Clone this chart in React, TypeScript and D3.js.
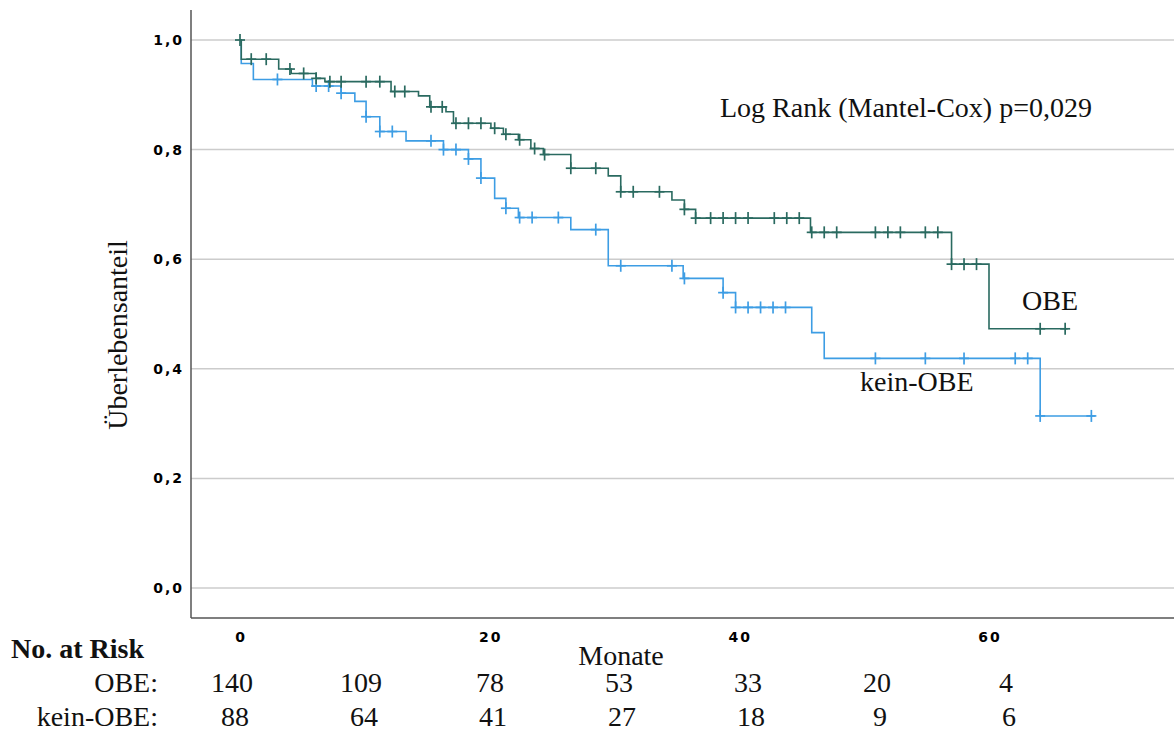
import React, { useEffect, useRef } from "react"
import * as d3 from "d3"

// Kaplan-Meier, OBE
const obeEventTimes = [0.1, 3.1, 4.1, 6.1, 6.8, 12.1, 14.3, 15.2, 16.5, 17.1, 20.1, 21.1, 22.3, 23.3, 24.3, 26.5, 29.5, 30.5, 34.6, 35.6, 36.5, 45.7, 57.0, 60.0]
const obeSurvival = [0.965, 0.947, 0.939, 0.93, 0.924, 0.906, 0.898, 0.878, 0.869, 0.848, 0.839, 0.828, 0.818, 0.802, 0.791, 0.766, 0.752, 0.723, 0.708, 0.691, 0.675, 0.649, 0.591, 0.473]
const obeCensored = [0, 0.9, 2.1, 4.0, 5.1, 6.1, 7.2, 8.1, 10.1, 11.2, 12.4, 13.2, 15.3, 16.2, 17.3, 18.3, 19.3, 20.4, 21.3, 22.4, 23.6, 24.4, 26.5, 28.5, 30.5, 31.5, 33.6, 35.6, 36.5, 37.7, 38.7, 39.7, 40.7, 42.8, 43.8, 44.8, 45.8, 46.8, 47.8, 50.9, 51.9, 52.9, 54.9, 55.9, 57.0, 58.0, 59.0, 64.1, 66.1]
const obeEnd = 66.3

// Kaplan-Meier, kein-OBE
const keinEventTimes = [0.1, 1.07, 5.8, 8.1, 9.2, 10.1, 11.2, 13.3, 16.3, 18.3, 19.3, 20.4, 21.3, 22.3, 26.5, 29.5, 35.5, 38.7, 39.7, 45.8, 46.8, 64.1]
const keinSurvival = [0.957, 0.928, 0.916, 0.903, 0.888, 0.86, 0.833, 0.816, 0.8, 0.783, 0.748, 0.711, 0.693, 0.676, 0.654, 0.588, 0.565, 0.539, 0.512, 0.466, 0.419, 0.314]
const keinCensored = [3.0, 6.1, 7.1, 8.1, 10.1, 11.2, 12.2, 15.3, 16.3, 17.3, 18.3, 19.3, 21.3, 22.4, 23.4, 25.5, 28.5, 30.5, 34.6, 35.6, 38.7, 39.7, 40.7, 41.7, 42.7, 43.7, 50.9, 54.9, 58.0, 62.1, 63.1, 64.1, 68.2]
const keinEnd = 68.5

const yTicks = [0, 0.2, 0.4, 0.6, 0.8, 1.0]
const xTicks = [0, 20, 40, 60]

const riskMonths = [0, 10, 20, 30, 40, 50, 60]
const riskObe = [140, 109, 78, 53, 33, 20, 4]
const riskKein = [88, 64, 41, 27, 18, 9, 6]

const obeColor = "#2a6a60"
const keinColor = "#3d9de4"
const serif = "'Liberation Serif', 'Times New Roman', serif"
const tickFont = "'DejaVu Sans', sans-serif"

const App = () => {
  const ref = useRef<SVGSVGElement>(null)

  useEffect(() => {
    const svg = d3.select(ref.current)
    svg.selectAll("*").remove()

    const x = d3.scaleLinear().domain([0, 60]).range([240, 989])
    const y = d3.scaleLinear().domain([0, 1]).range([588, 40])
    const xRisk = d3.scaleLinear().domain([0, 60]).range([232, 1006])
    const left = 191, right = 1174, bottom = 618

    // grid
    svg.append("g").selectAll("line").data(yTicks).join("line")
      .attr("x1", left).attr("x2", right)
      .attr("y1", d => y(d)).attr("y2", d => y(d))
      .attr("stroke", "#cccccc").attr("stroke-width", 1.5)

    // axes
    svg.append("line").attr("x1", left).attr("x2", left).attr("y1", 10).attr("y2", bottom)
      .attr("stroke", "#555").attr("stroke-width", 1.5)
    svg.append("line").attr("x1", left).attr("x2", right).attr("y1", bottom).attr("y2", bottom)
      .attr("stroke", "#555").attr("stroke-width", 1.5)

    svg.append("g").selectAll("text").data(yTicks).join("text")
      .attr("x", 184).attr("y", d => y(d) + 5)
      .attr("text-anchor", "end")
      .attr("font-family", tickFont).attr("font-weight", "bold").attr("font-size", 14)
      .attr("letter-spacing", 2)
      .text(d => d3.format(".1f")(d).replace(".", ","))

    svg.append("g").selectAll("text").data(xTicks).join("text")
      .attr("x", d => x(d) + 1).attr("y", 642)
      .attr("text-anchor", "middle")
      .attr("font-family", tickFont).attr("font-weight", "bold").attr("font-size", 14)
      .attr("letter-spacing", 2)
      .text(d => d)

    const drawCurve = (times: number[], surv: number[], censored: number[], end: number, color: string) => {
      const pts: [number, number][] = [[0, 1], ...times.map((t, i) => [t, surv[i]] as [number, number]), [end, surv[surv.length - 1]]]
      const line = d3.line<[number, number]>().x(d => x(d[0])).y(d => y(d[1])).curve(d3.curveStepAfter)
      svg.append("path").attr("d", line(pts)).attr("fill", "none")
        .attr("stroke", color).attr("stroke-width", 1.6)
      const sAt = (t: number) => {
        let s = 1
        times.forEach((et, i) => { if (et <= t) s = surv[i] })
        return s
      }
      const g = svg.append("g").attr("stroke", color).attr("stroke-width", 1.7)
      censored.forEach(t => {
        const cx = x(t), cy = y(sAt(t))
        g.append("line").attr("x1", cx - 5).attr("x2", cx + 5).attr("y1", cy).attr("y2", cy)
        g.append("line").attr("x1", cx).attr("x2", cx).attr("y1", cy - 6).attr("y2", cy + 6)
      })
    }
    drawCurve(keinEventTimes, keinSurvival, keinCensored, keinEnd, keinColor)
    drawCurve(obeEventTimes, obeSurvival, obeCensored, obeEnd, obeColor)

    const label = (tx: string, lx: number, ly: number, anchor = "start", weight = "normal") =>
      svg.append("text").attr("x", lx).attr("y", ly).attr("text-anchor", anchor)
        .attr("font-family", serif).attr("font-size", 28).attr("font-weight", weight)
        .attr("fill", "#111").text(tx)

    label("Log Rank (Mantel-Cox) p=0,029", 720, 117)
    label("OBE", 1022, 310)
    label("kein-OBE", 860, 391)
    label("Monate", 621, 665, "middle")

    svg.append("text").attr("transform", "translate(127,335) rotate(-90)")
      .attr("text-anchor", "middle").attr("font-family", serif).attr("font-size", 28)
      .attr("fill", "#111").text("Überlebensanteil")

    label("No. at Risk", 11, 658, "start", "bold")
    label("OBE:", 158, 692, "end")
    label("kein-OBE:", 158, 726, "end")

    svg.append("g").selectAll("text").data(riskMonths).join("text")
      .attr("x", d => xRisk(d)).attr("y", 692).attr("text-anchor", "middle")
      .attr("font-family", serif).attr("font-size", 28).attr("fill", "#111")
      .text((d, i) => riskObe[i])
    svg.append("g").selectAll("text").data(riskMonths).join("text")
      .attr("x", d => xRisk(d) + 3).attr("y", 726).attr("text-anchor", "middle")
      .attr("font-family", serif).attr("font-size", 28).attr("fill", "#111")
      .text((d, i) => riskKein[i])
  }, [])

  return (
    <div style={{ position: "absolute", left: 0, top: 0 }}>
      <svg ref={ref} width={1174} height={731} style={{ display: "block", background: "#fff" }} />
    </div>
  )
}

export default App
